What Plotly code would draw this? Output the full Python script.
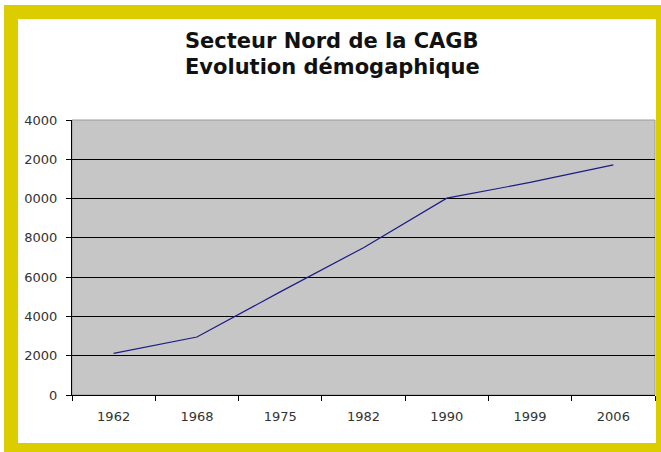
import plotly.graph_objects as go

years = ["1962", "1968", "1975", "1982", "1990", "1999", "2006"]
population = [2120, 2950, 5250, 7500, 10020, 10820, 11720]
y_tickvals = [0, 2000, 4000, 6000, 8000, 10000, 12000, 14000]
y_ticktext = ["0", "2000", "4000", "6000", "8000", "0000", "2000", "4000"]
title_lines = ["Secteur Nord de la CAGB", "Evolution démogaphique"]

W, H = 661, 452
L, R, T, B = 72, 655, 120, 395  # plot area in pixels


def px(x):
    return (x - L) / (R - L)


def py(y):
    return (B - y) / (B - T)


YELLOW = "#dccd00"
TICKFONT = dict(family="DejaVu Sans, sans-serif", size=13, color="#333333")

fig = go.Figure()
fig.add_trace(go.Scatter(
    x=years, y=population, mode="lines",
    line=dict(color="#1c1c86", width=1.2),
    hoverinfo="x+y", showlegend=False,
))

shapes = []
for (x0, y0, x1, y1) in [(4, 5, 661, 19), (4, 443, 661, 452), (4, 5, 18, 452), (656, 5, 661, 452)]:
    shapes.append(dict(type="rect", xref="paper", yref="paper",
                       x0=px(x0), x1=px(x1), y0=py(y0), y1=py(y1),
                       fillcolor=YELLOW, line=dict(width=0), layer="above"))
shapes.append(dict(type="rect", xref="paper", yref="paper", x0=0, x1=1, y0=0, y1=1,
                   line=dict(color="#9a9a9a", width=1), fillcolor="rgba(0,0,0,0)", layer="below"))

annotations = []
for text, ypix in zip(title_lines, [41, 67]):
    annotations.append(dict(
        text="<b>" + text + "</b>", xref="paper", yref="paper",
        x=px(332), y=py(ypix), xanchor="center", yanchor="middle", showarrow=False,
        font=dict(family="DejaVu Sans, sans-serif", size=21, color="#111111"),
    ))

fig.update_layout(
    width=W, height=H,
    margin=dict(l=L, r=W - R, t=T, b=H - B),
    paper_bgcolor="white",
    plot_bgcolor="#c6c6c6",
    font=TICKFONT,
    xaxis=dict(
        type="category", tickson="boundaries", ticks="outside", ticklen=5,
        tickcolor="black", showline=True, linecolor="black", linewidth=1,
        showgrid=False, zeroline=False, range=[-0.5, 6.5],
        tickfont=TICKFONT, ticklabelstandoff=9,
    ),
    yaxis=dict(
        range=[0, 14000], tickvals=y_tickvals, ticktext=y_ticktext,
        ticks="outside", ticklen=5, tickcolor="black",
        showline=True, linecolor="black", linewidth=1,
        showgrid=True, gridcolor="black", gridwidth=1, zeroline=False,
        tickfont=TICKFONT, ticklabelstandoff=6,
    ),
    shapes=shapes,
    annotations=annotations,
)

fig.write_html(
    "out.html",
    config={"displayModeBar": False},
    post_script="document.body.style.margin='0';document.body.style.overflow='hidden';",
)
